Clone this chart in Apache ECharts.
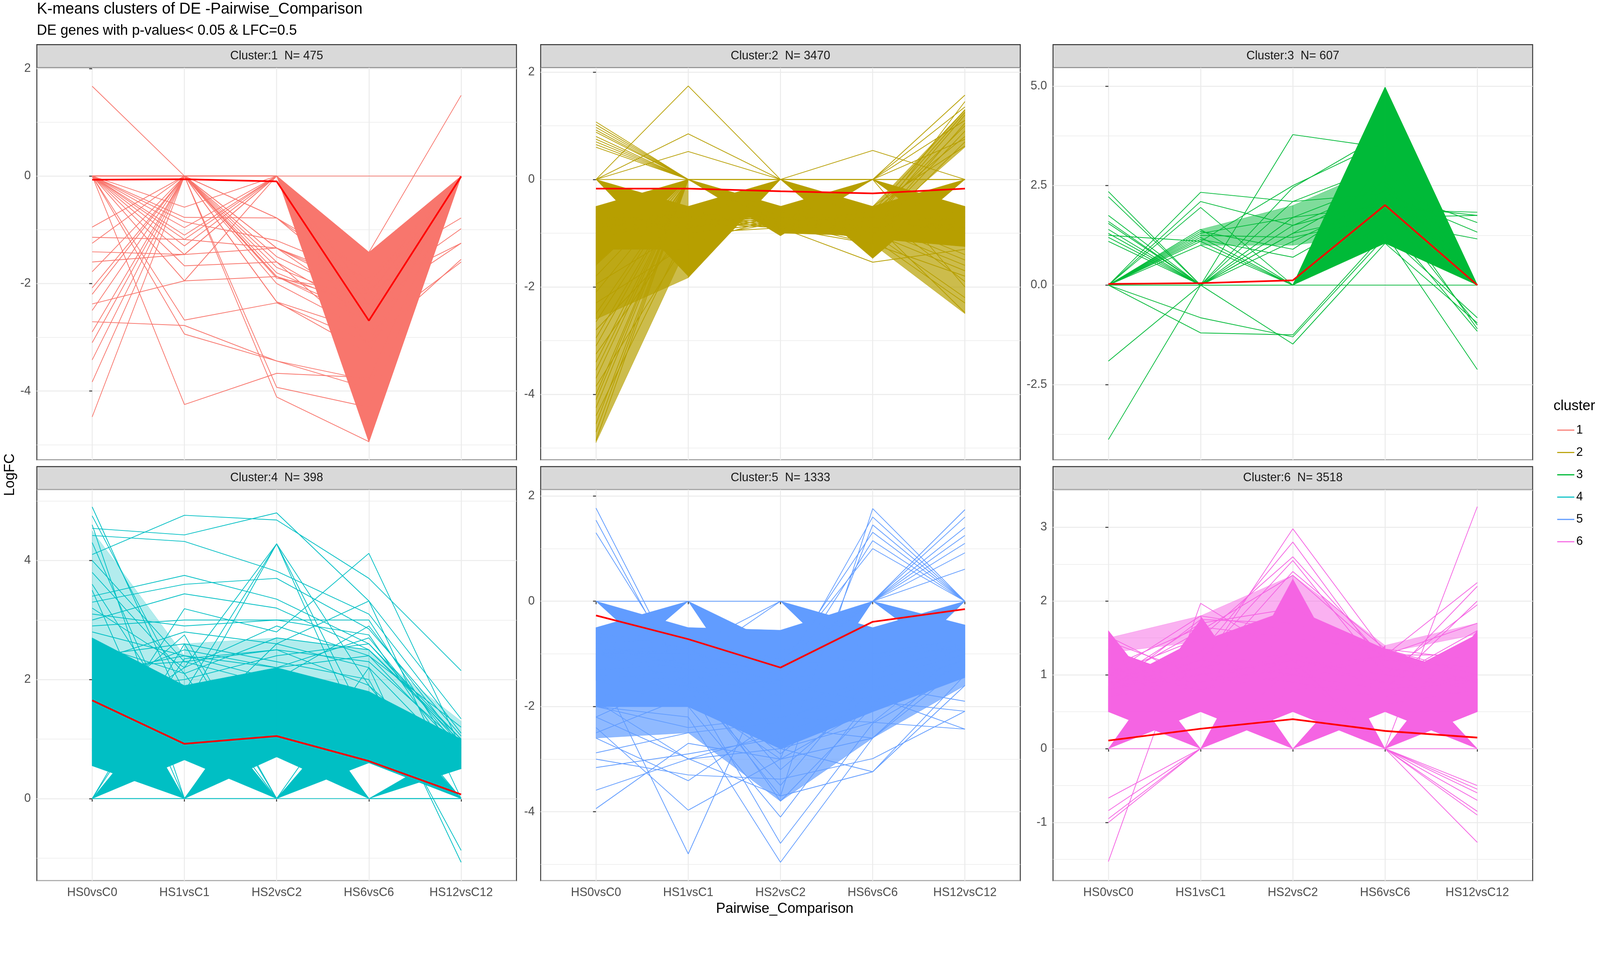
<!DOCTYPE html>
<html>
<head>
<meta charset="utf-8">
<script src="https://cdn.jsdelivr.net/npm/echarts@6/dist/echarts.min.js"></script>
<style>
  html, body { margin: 0; padding: 0; background: #ffffff; overflow: hidden; }
  #container_01 { width: 100vw; height: 100vh; }
</style>
</head>
<body>
<div id="container_01"></div>
<script>
// categories and cluster info
const comparisons = ['HS0vsC0', 'HS1vsC1', 'HS2vsC2', 'HS6vsC6', 'HS12vsC12'];
const clusterSizes = [475, 3470, 607, 398, 1333, 3518];
const clusterColors = ['#F8766D', '#B79F00', '#00BA38', '#00BFC4', '#619CFF', '#F564E3'];

// free y scales, one per panel
const yMin = [-5.28, -5.22, -4.39, -1.38, -5.31, -1.79];
const yMax = [2.014, 2.08, 5.46, 5.19, 2.12, 3.51];
const yMajor = [2, 2, 2.5, 2, 2, 1];

// cluster centres (red lines)
const meanC1 = [-0.07, -0.06, -0.1, -2.69, -0.01];
const meanC2 = [-0.17, -0.17, -0.22, -0.26, -0.17];
const meanC3 = [0.03, 0.05, 0.12, 2.01, 0.0];
const meanC4 = [1.65, 0.92, 1.05, 0.63, 0.07];
const meanC5 = [-0.27, -0.72, -1.26, -0.39, -0.15];
const meanC6 = [0.11, 0.27, 0.4, 0.24, 0.15];

// dense bundles of gene lines: [from comparison, lo, hi at start, lo, hi at next comparison]
const bundlesC1 = [
  [2, 0, 0, -4.95, -1.42],
  [3, -4.95, -1.42, 0, 0]
];
const bundlesC2 = [
  [0, 0, 0, -1.8, -0.5], [0, -1.6, -0.5, 0, 0], [0, -1.3, -0.5, -1.3, -0.5],
  [1, 0, 0, -1.05, -0.5], [1, -1.83, -0.5, 0, 0], [1, -0.75, -0.5, -0.7, -0.5],
  [2, 0, 0, -1.47, -0.5], [2, -1.05, -0.5, 0, 0], [2, -1.0, -0.5, -1.05, -0.5],
  [3, 0, 0, -1.25, -0.5], [3, -1.47, -0.5, 0, 0], [3, -1.1, -0.5, -1.25, -0.5]
];
const bundlesC3 = [
  [2, 0, 0, 1.05, 4.97],
  [3, 1.05, 4.97, 0, 0]
];
const bundlesC4 = [
  [0, 0, 0, 0.65, 1.9], [0, 0.55, 2.7, 0, 0], [0, 0.55, 2.7, 0.65, 1.9],
  [1, 0, 0, 0.7, 2.2], [1, 0.65, 1.9, 0, 0], [1, 0.65, 1.9, 0.7, 2.2],
  [2, 0, 0, 0.6, 1.8], [2, 0.7, 2.2, 0, 0], [2, 0.7, 2.2, 0.6, 1.8],
  [3, 0, 0, 0.5, 0.9], [3, 0.6, 1.8, 0, 0], [3, 0.6, 1.8, 0.5, 1.0]
];
const bundlesC5 = [
  [0, 0, 0, -1.6, -0.5], [0, -1.5, -0.5, 0, 0], [0, -1.5, -0.5, -1.6, -0.5],
  [1, 0, 0, -2.6, -0.85], [1, -1.6, -0.5, -2.6, -0.55],
  [2, 0, 0, -1.7, -0.5], [2, -2.6, -0.55, 0, 0], [2, -2.6, -0.55, -1.7, -0.5],
  [3, 0, 0, -1.3, -0.45], [3, -1.7, -0.5, 0, 0], [3, -1.7, -0.5, -1.3, -0.45],
  [0, -2.0, -1.0, -2.0, -1.0], [1, -2.0, -1.0, -2.8, -1.2], [2, -2.8, -1.2, -2.1, -1.0], [3, -2.1, -1.0, -1.45, -0.8]
];
const bundlesC6 = [
  [0, 0, 0, 0.5, 1.75], [0, 0.5, 1.6, 0, 0], [0, 0.5, 1.35, 0.5, 0.9], [0, 0.5, 0.85, 0.5, 1.5],
  [1, 0, 0, 0.5, 2.3], [1, 0.5, 1.8, 0, 0], [1, 0.5, 1.45, 0.5, 1.9],
  [2, 0, 0, 0.5, 1.4], [2, 0.5, 2.3, 0, 0], [2, 0.5, 1.9, 0.5, 1.35],
  [3, 0, 0, 0.5, 1.6], [3, 0.5, 1.35, 0, 0], [3, 0.5, 1.35, 0.5, 0.95], [3, 0.5, 0.9, 0.5, 1.55]
];

// thinner bundles (streaky areas where the lines do not fill the space)
const sparseC1 = [];
const sparseC2 = [
  [0, -4.9, -1.6, -1.2, 0], [0, -2.6, -1.3, -1.83, -1.2], [3, -1.2, -0.6, -2.5, -1.25], [3, -0.9, -0.5, 0.6, 1.3]
];
const sparseC3 = [[1, 1.0, 1.4, 1.0, 2.0], [2, 1.0, 2.0, 1.3, 3.0]];
const sparseC4 = [
  [0, 2.7, 4.5, 0.9, 2.4], [1, 1.9, 2.6, 2.2, 2.7], [2, 2.2, 2.7, 1.8, 2.5], [3, 1.8, 2.5, 1.0, 1.3]
];
const sparseC5 = [
  [0, -2.6, -2.0, -2.5, -2.0], [1, -2.5, -2.0, -3.8, -2.8], [2, -3.8, -2.8, -2.6, -2.1], [3, -2.6, -2.1, -1.6, -1.45]
];
const sparseC6 = [
  [0, 1.3, 1.5, 1.45, 1.8], [1, 1.45, 1.8, 1.9, 2.35], [2, 1.9, 2.35, 1.3, 1.4], [3, 1.3, 1.4, 1.55, 1.7]
];

// individual genes that stand out of the bundles
const linesC1 = [
  [1.67, 0, 0, -2.6, 0], [-4.48, 0, 0, -3.2, 0], [-3.83, 0, 0, -2.9, 0], [-3.42, 0, -1.34, -2.5, 0],
  [-2.9, 0, 0, -2.4, 0], [-2.71, -2.78, -3.44, -3.95, 0], [0, -2.68, -2.36, -3.1, 0], [0, -2.94, -3.44, -3.8, 0],
  [0, -4.25, -3.67, -3.75, 0], [-2.38, -1.95, -1.87, -2.6, 0], [-2.08, 0, -2.34, -3.3, 0], [-1.78, 0, 0, -2.2, 0],
  [-1.6, -1.46, 0, -2.0, 0], [-1.41, -1.46, -1.34, -2.1, -1.25], [-1.25, 0, -1.87, -2.4, 0], [-1.14, -1.18, 0, -1.9, 0],
  [-0.95, 0, -0.78, -1.8, -0.78], [0, -0.58, 0, -2.2, 0], [0, -0.77, -0.78, -2.0, 0], [0, -0.96, 0, -2.5, 0],
  [0, -1.18, -1.34, -2.2, -0.98], [0, -1.67, -1.6, -3.1, -1.55], [0, -1.95, 0, -2.8, 0], [0, -1.3, 0, -2.4, 0],
  [0, 0, -4.11, -4.94, 0], [0, 0, -3.93, -4.3, 0], [0, 0, -2.34, -2.9, -1.6], [0, 0, -1.87, -2.7, 0],
  [0, 0, -1.6, -2.6, 0], [0, 0, -1.5, -2.3, 0], [0, 0, -1.8, -2.5, 0], [0, 0, -2.0, -2.9, 0],
  [0, 0, -1.7, -2.4, -1.25], [0, 0, 0, -1.42, 1.5], [0, 0, 0, 0, 0], [-3.1, 0, 0, -3.3, 0],
  [-2.2, 0, 0, -2.7, 0], [0, 0, -1.34, -2.0, 0], [0, 0, -0.78, -2.2, 0], [0, -1.46, 0, -2.2, 0],
  [0, -1.1, 0, -2.1, 0], [-2.5, 0, 0, -3.0, 0], [0, 0, -1.9, -2.2, 0], [0, -0.85, -1.2, -1.9, 0]
];
const linesC2 = [
  [1.07, 0, -0.6, -0.8, -0.7], [1.02, 0, -0.7, 0, -0.9], [0.97, 0, 0, -0.7, -0.6], [0.92, 0, -0.8, -0.9, 0],
  [0.88, 0, -0.6, -0.6, -1.0], [0.8, 0, 0, -0.8, -0.7], [0.75, 0, -0.7, -1.0, 0], [0.7, 0, -0.5, -0.6, -0.8],
  [0.65, 0, -0.9, 0, -0.6], [0.6, 0, -0.6, -0.7, -0.9],
  [0, 1.74, 0, 0, 0], [0, 0.85, 0, -0.7, -0.6], [0, 0.52, 0, -0.8, 0], [-0.7, -0.8, 0, 0.54, 0], [0, 0, 0, 0, 0],
  [-1.8, 0, -0.7, -0.9, -0.8], [-1.95, -0.9, -0.6, -1.0, -0.7], [-2.1, 0, -0.8, -0.8, -0.9], [-2.3, -1.2, -0.7, -0.7, -1.0],
  [-2.5, 0, -0.9, -1.1, -0.8], [-2.65, 0, -0.6, -0.9, -0.6], [-2.8, -1.0, -0.8, -0.6, -0.9], [-2.95, 0, -0.7, -1.0, -1.1],
  [-3.1, 0, -0.6, -0.8, -0.7], [-3.25, -0.8, -0.9, -0.9, -0.8], [-3.4, 0, -0.8, -1.2, -0.6], [-3.55, 0, -0.7, -0.7, -1.0],
  [-3.7, 0, -0.6, -1.0, -0.9], [-3.85, -1.1, -0.8, -0.9, -0.7], [-4.0, 0, -0.9, -0.8, -0.8], [-4.1, 0, -0.7, -1.1, -1.2],
  [-4.25, 0, -0.6, -0.9, -0.9], [-4.4, -0.9, -0.8, -0.8, -0.7], [-4.55, 0, -0.7, -1.0, -0.8], [-4.7, 0, -0.9, -0.7, -1.0],
  [-4.86, 0, -0.8, -0.9, -0.9], [-0.9, -1.0, -0.9, -1.54, -1.3],
  [-0.7, -0.8, -0.7, -0.8, -2.48], [-0.9, 0, -0.8, -1.0, -2.2], [-0.8, -0.9, -0.6, 0, -2.0], [-0.6, -0.7, -0.9, -1.2, -1.8],
  [-1.0, -0.8, -0.7, -0.9, -1.6], [-0.7, -1.0, -0.8, -0.7, -1.4], [-0.8, -0.6, -0.9, -1.1, -2.3], [-0.9, -0.7, -0.6, -0.6, -1.9],
  [-0.6, -0.9, -0.8, -1.0, -1.7], [-0.8, -0.8, -0.7, -0.8, -1.5],
  [-0.8, -0.7, -0.8, 0, 1.57], [-0.7, -0.9, 0, 0, 1.35], [-0.9, -0.8, -0.7, -0.6, 1.3], [-0.6, 0, -0.8, -0.8, 1.2],
  [-1.0, -0.7, -0.6, 0, 1.1], [-0.7, -0.8, -0.9, -0.7, 1.0], [-0.8, -1.0, -0.7, -0.9, 0.9], [-0.9, -0.6, -0.8, -0.6, 0.8],
  [-0.7, -0.7, -0.9, 0, 0.75], [-0.6, -0.9, -0.7, -1.0, 0.7], [-0.8, -0.8, -0.6, -0.5, 0.62], [-1.1, -0.7, -0.8, -0.8, 1.45],
  [-0.9, -0.6, -0.7, -0.7, 1.25], [-0.7, -0.8, -0.8, -0.9, 1.05]
];
const linesC3 = [
  [2.35, 0, 0, 3.2, 0], [2.22, 0, 1.3, 2.6, 0], [1.75, 0, 1.1, 2.2, 0], [1.6, 0, 0, 1.9, 1.83],
  [1.55, 0, 0, 2.4, 0], [1.4, 0, 1.3, 1.8, 0], [1.3, 0, 0, 2.9, 0], [1.2, 0, 1.5, 2.1, 0],
  [1.1, 0, 0, 1.6, 1.16], [0, 2.33, 2.1, 3.0, 0], [0, 2.1, 1.5, 2.5, 0], [0, 1.95, 0, 1.8, 0],
  [0, 1.4, 0, 2.2, 0], [0, 1.3, 1.7, 2.6, 0], [0, 1.2, 0, 1.5, 0], [0, 1.1, 2.5, 3.6, 0],
  [0, 1.0, 0, 2.0, 0], [0, 1.25, 1.2, 1.7, 1.75], [0, 1.35, 0.9, 2.4, 1.57], [-1.91, 0, 0, 1.5, 0],
  [-3.88, 0, 0, 2.0, 0], [0, -0.82, -1.3, 1.2, 0], [0, -1.2, -1.25, 1.3, -0.82], [0, 0, -1.48, 1.05, -0.95],
  [0, 0, 3.78, 3.45, 0], [0, 0, 2.45, 3.8, 0], [0, 0, 2.1, 2.3, 1.33], [0, 0, 1.7, 2.0, 1.75],
  [0, 0, 0, 1.9, -1.0], [0, 0, 0, 2.2, -1.1], [0, 0, 0, 1.6, -1.16], [0, 0, 0, 1.3, -2.12],
  [0, 0, 0, 4.97, 0], [0, 0, 0, 0, 0], [1.25, 1.1, 0, 2.7, 0], [0, 1.15, 0.7, 2.0, 0]
];
const linesC4 = [
  [4.54, 4.43, 4.8, 3.32, 1.34], [4.1, 4.76, 4.68, 3.7, 2.15], [4.42, 4.32, 3.82, 3.1, 1.1], [4.9, 1.5, 1.3, 0.9, 0.6],
  [4.75, 1.8, 1.6, 1.2, 0.8], [4.6, 0, 2.0, 0.8, 0], [4.3, 0.8, 1.2, 0, 0], [4.0, 2.3, 1.9, 1.5, 0.7],
  [3.8, 2.1, 0, 0.9, 0], [3.6, 1.2, 1.5, 1.7, 0.5], [3.4, 3.75, 3.35, 2.6, 0.9], [3.3, 3.6, 3.7, 2.85, 1.05],
  [3.1, 2.9, 3.0, 2.75, 0.5], [3.0, 3.44, 3.2, 2.5, 0.95], [2.9, 3.0, 3.0, 3.0, 0.6], [2.5, 1.5, 4.28, 1.9, 0.5],
  [2.0, 1.8, 4.28, 1.2, 0], [1.2, 2.2, 4.28, 0.8, 0], [0.8, 3.19, 2.8, 4.12, 0.85], [1.0, 1.1, 2.6, 3.32, 0],
  [2.4, 2.6, 2.3, 2.0, -0.87], [1.4, 2.75, 0, 2.2, -1.07], [0, 2.35, 2.5, 1.9, 0], [0, 2.6, 0, 1.5, 0],
  [2.8, 2.4, 2.2, 2.4, 0.8], [1.8, 2.0, 2.4, 2.6, 1.0], [0, 0, 0, 0, 0], [3.5, 0, 0.9, 1.0, 0],
  [0, 0, 2.1, 0, 0], [1.6, 0, 0, 1.7, 0.7],
  [2.2, 2.3, 2.5, 2.3, 0.9], [2.6, 2.1, 2.7, 2.5, 1.0], [1.9, 2.5, 2.2, 2.7, 0.8], [2.3, 2.8, 2.6, 2.2, 0.6],
  [3.2, 2.2, 2.9, 2.4, 1.2], [2.1, 2.4, 2.0, 2.9, 0.9]
];
const linesC5 = [
  [1.77, -1.65, -1.5, -1.2, -0.8], [1.54, -1.7, -1.8, -1.0, -0.9], [1.3, -1.5, -1.2, -1.1, -0.7],
  [-2.88, -2.5, -2.3, -1.5, -1.0], [-3.16, -2.9, -2.6, -2.0, -1.2], [-3.59, -3.0, -2.8, -2.3, -0.9], [-3.94, -2.7, -3.0, -2.6, -1.0],
  [-2.6, -3.41, -2.2, -1.8, -1.1], [-2.4, -3.97, -3.0, -2.0, -0.8], [-1.2, -4.8, -0.9, -1.2, -0.8],
  [-3.0, -3.3, -3.38, -2.99, -2.09], [-2.2, -2.99, -3.7, -3.24, -1.6], [-2.0, -2.2, -4.96, -2.6, -1.0], [-1.8, -1.6, -4.6, -2.32, -1.3],
  [-1.5, -2.0, -4.1, -1.8, -2.43], [-1.0, -1.5, -3.7, 1.76, 0], [-1.2, -1.8, -3.0, 1.45, 0],
  [-0.8, -1.2, -1.5, 1.6, 0], [-0.9, -1.0, -1.3, 1.31, 0], [-1.1, -0.9, -1.6, 1.15, 0], [-0.7, -1.3, -1.2, 1.0, 0],
  [-0.9, -1.0, -1.4, 0, 1.74], [-1.0, -1.2, -1.0, 0, 1.6], [-0.8, -0.7, -1.5, 0, 1.4], [-1.2, -1.1, -1.3, 0, 1.25],
  [-0.6, -0.9, -1.8, 0, 1.1], [-1.0, -0.8, -1.1, 0, 0.92], [-0.7, -0.6, -1.2, 0, 0.61],
  [-1.0, -1.3, -1.6, -1.9, -2.09], [-1.4, -1.5, -2.2, -2.3, -2.43], [-0.9, -1.2, -2.0, -1.6, -1.9],
  [0, 0, 0, 0, 0], [-0.8, -1.2, 0, -1.0, -0.7], [-1.0, -0.9, 0, -0.7, -0.9],
  [-1.0, -1.5, -2.9, -1.5, -0.9], [-1.3, -1.2, -3.2, -1.7, -1.0], [-0.9, -1.6, -3.5, -1.4, -0.8], [-1.5, -1.3, -3.8, -2.0, -1.1],
  [-2.2, -1.4, -1.8, -1.3, -0.9], [-2.5, -1.8, -2.0, -1.5, -1.0], [-2.0, -2.4, -2.2, -1.7, -1.1],
  [-1.9, -3.0, -2.5, -1.9, -1.2], [-1.5, -1.6, -2.4, -2.6, -1.2], [-2.0, -2.0, -2.8, -3.24, -1.4]
];
const linesC6 = [
  [-0.67, 0, 1.0, 0.8, 0.9], [-0.84, 0, 0.9, 0.7, 1.0], [-0.95, 0, 1.1, 0.6, 0.8], [-1.0, 0, 0.8, 0.9, 0.7],
  [-1.53, 1.97, 1.2, 0.9, 1.0], [1.52, 0.9, 1.3, 0.8, 1.0], [1.45, 1.0, 1.2, 1.0, 0.9],
  [1.0, 1.8, 1.6, 1.2, 1.1], [0.8, 1.75, 1.7, 1.3, 1.0], [0.9, 1.7, 1.9, 1.25, 0.9], [1.1, 1.65, 1.5, 1.35, 1.2],
  [0.8, 1.1, 2.98, 1.3, 1.0], [0.9, 1.3, 2.8, 1.1, 0.9], [1.0, 1.5, 2.6, 1.2, 1.1], [0.7, 1.2, 2.55, 1.0, 0.8],
  [1.1, 1.0, 2.4, 1.35, 1.0], [0.9, 1.6, 2.35, 1.25, 0.9],
  [0.8, 1.0, 1.2, 0, -0.5], [0.9, 0.8, 1.0, 0, -0.55], [1.0, 1.1, 0.9, 0, -0.6], [0.7, 0.9, 1.1, 0, -0.7],
  [0.8, 1.2, 1.0, 0, -0.85], [1.0, 0.9, 1.3, 0, -0.9], [0.9, 1.0, 1.2, 0, -1.27],
  [0.8, 1.0, 1.2, 0, 3.28], [1.0, 0.9, 1.1, 1.26, 2.25], [0.8, 1.1, 1.3, 0.9, 2.2], [0.9, 1.2, 1.0, 0.8, 2.0],
  [1.1, 0.8, 1.2, 1.0, 1.95], [0.7, 1.0, 0.9, 1.27, 1.7], [1.0, 1.3, 1.1, 0.9, 1.6], [0.9, 1.1, 1.0, 1.27, 1.27],
  [0, 0, 0, 0, 0]
];

const clusterMeans = [meanC1, meanC2, meanC3, meanC4, meanC5, meanC6];
const clusterBundles = [bundlesC1, bundlesC2, bundlesC3, bundlesC4, bundlesC5, bundlesC6];
const clusterSparse = [sparseC1, sparseC2, sparseC3, sparseC4, sparseC5, sparseC6];
const clusterLines = [linesC1, linesC2, linesC3, linesC4, linesC5, linesC6];
const sparseOpacity = [0.5, 0.7, 0.5, 0.3, 0.7, 0.5];

// the layout is drawn for a 4300 px wide page; scale it to the real viewport
var chartDom = document.getElementById('container_01');
const viewW = document.documentElement.clientWidth || window.innerWidth || 4300;
const s = viewW / 4300;
chartDom.style.width = viewW + 'px';
chartDom.style.height = Math.round(2473 * s) + 'px';
function px(v) { return v * s; }

const fontFamily = '"Liberation Sans", Arial, sans-serif';
const panelLeft = [99, 1453, 2830];
const panelWidth = 1289;
const rowTop = [182, 1316];
const rowHeight = [1054, 1051];
const stripHeight = 62;

function tickValues(min, max, step) {
  let out = [];
  for (let v = Math.ceil(min / step - 1e-9) * step; v <= max + 1e-9; v += step) {
    out.push(Math.round(v * 1000) / 1000);
  }
  return out;
}

function bundleSeries(k, bundles, color, opacity, z) {
  return {
    type: 'custom', name: String(k + 1), xAxisIndex: k, yAxisIndex: 2 * k,
    data: bundles, encode: { x: 0, y: 1 }, silent: true, z: z,
    itemStyle: { color: color },
    renderItem: function (params, api) {
      const b = bundles[params.dataIndex];
      const pts = [
        api.coord([b[0], b[1]]), api.coord([b[0], b[2]]),
        api.coord([b[0] + 1, b[4]]), api.coord([b[0] + 1, b[3]])
      ];
      return { type: 'polygon', shape: { points: pts }, style: { fill: color, stroke: color, lineWidth: px(1), opacity: opacity } };
    }
  };
}

var myChart = echarts.init(chartDom, null, { renderer: 'canvas' });

var grids = [], xAxes = [], yAxes = [], series = [], graphics = [];

for (let k = 0; k < 6; k++) {
  const col = k % 3, row = Math.floor(k / 3);
  const left = panelLeft[col], top = rowTop[row], height = rowHeight[row];
  const color = clusterColors[k];
  const step = yMajor[k];
  const majors = tickValues(yMin[k], yMax[k], step);

  grids.push({
    left: px(left), top: px(top), width: px(panelWidth), height: px(height),
    show: true, backgroundColor: '#ffffff', borderColor: '#333333', borderWidth: px(2.5),
    containLabel: false
  });

  xAxes.push({
    type: 'value', gridIndex: k, min: -0.6, max: 4.6, minInterval: 1, maxInterval: 1,
    axisLine: { show: false },
    axisTick: { show: row === 1, length: px(8), lineStyle: { color: '#333333', width: px(2.5) }, customValues: [0, 1, 2, 3, 4] },
    axisLabel: {
      show: row === 1, margin: px(17), color: '#4D4D4D', fontSize: px(32), fontFamily: fontFamily,
      customValues: [0, 1, 2, 3, 4],
      formatter: function (v) {
        return Math.abs(v - Math.round(v)) < 1e-6 && v >= 0 && v <= 4 ? comparisons[Math.round(v)] : '';
      }
    },
    splitLine: { show: true, lineStyle: { color: '#EBEBEB', width: px(2.6) } }
  });

  // major axis (labels, ticks, major grid)
  yAxes.push({
    type: 'value', gridIndex: k, min: yMin[k], max: yMax[k], minInterval: step, maxInterval: step,
    axisLine: { show: false },
    axisTick: { show: true, length: px(8), lineStyle: { color: '#333333', width: px(2.5) }, customValues: majors },
    axisLabel: {
      margin: px(16), color: '#4D4D4D', fontSize: px(32), fontFamily: fontFamily, customValues: majors,
      formatter: function (v) {
        const r = Math.round(v / step) * step;
        if (Math.abs(v - r) > 1e-6) return '';
        return step === 2.5 ? r.toFixed(1) : String(Math.round(r));
      }
    },
    splitLine: { show: true, lineStyle: { color: '#EBEBEB', width: px(2.6) } },
    z: 1
  });
  // minor grid only
  yAxes.push({
    type: 'value', gridIndex: k, min: yMin[k], max: yMax[k], minInterval: step / 2, maxInterval: step / 2,
    position: 'left',
    axisLine: { show: false }, axisTick: { show: false }, axisLabel: { show: false },
    splitLine: { show: true, lineStyle: { color: '#EBEBEB', width: px(1.6) } },
    z: 0
  });

  series.push(bundleSeries(k, clusterSparse[k], color, sparseOpacity[k], 2));
  series.push(bundleSeries(k, clusterBundles[k], color, 1, 2));

  clusterLines[k].forEach(function (vals) {
    series.push({
      type: 'line', name: String(k + 1), xAxisIndex: k, yAxisIndex: 2 * k,
      data: vals.map(function (v, i) { return [i, v]; }),
      symbol: 'none', silent: true, z: 3,
      itemStyle: { color: color },
      lineStyle: { color: color, width: px(2) }
    });
  });

  series.push({
    type: 'line', name: 'centre' + k, xAxisIndex: k, yAxisIndex: 2 * k,
    data: clusterMeans[k].map(function (v, i) { return [i, v]; }),
    symbol: 'none', silent: true, z: 5,
    itemStyle: { color: '#FF0000' },
    lineStyle: { color: '#FF0000', width: px(4.5) }
  });

  // strip on top of each panel
  graphics.push({
    type: 'rect', shape: { x: px(left), y: px(top - stripHeight), width: px(panelWidth), height: px(stripHeight) },
    style: { fill: '#D9D9D9', stroke: '#333333', lineWidth: px(2.5) }
  });
  graphics.push({
    type: 'text', x: px(left + panelWidth / 2), y: px(top - stripHeight / 2),
    style: {
      text: 'Cluster:' + (k + 1) + '  N= ' + clusterSizes[k],
      font: px(32) + 'px ' + fontFamily, fill: '#1A1A1A', textAlign: 'center', textVerticalAlign: 'middle'
    }
  });
}

graphics.push({
  type: 'text', x: px(99), y: px(25),
  style: { text: 'K-means clusters of DE -Pairwise_Comparison', font: px(42) + 'px ' + fontFamily, fill: '#000000', textAlign: 'left', textVerticalAlign: 'middle' }
});
graphics.push({
  type: 'text', x: px(99), y: px(83),
  style: { text: 'DE genes with p-values< 0.05 & LFC=0.5', font: px(38) + 'px ' + fontFamily, fill: '#000000', textAlign: 'left', textVerticalAlign: 'middle' }
});
graphics.push({
  type: 'text', x: px(27), y: px(1276), rotation: Math.PI / 2,
  style: { text: 'LogFC', font: px(38) + 'px ' + fontFamily, fill: '#000000', textAlign: 'center', textVerticalAlign: 'middle' }
});
graphics.push({
  type: 'text', x: px(2109), y: px(2443),
  style: { text: 'Pairwise_Comparison', font: px(38) + 'px ' + fontFamily, fill: '#000000', textAlign: 'center', textVerticalAlign: 'middle' }
});
graphics.push({
  type: 'text', x: px(4175), y: px(1092),
  style: { text: 'cluster', font: px(38) + 'px ' + fontFamily, fill: '#000000', textAlign: 'left', textVerticalAlign: 'middle' }
});

var option = {
  animation: false,
  backgroundColor: '#ffffff',
  grid: grids,
  xAxis: xAxes,
  yAxis: yAxes,
  legend: {
    orient: 'vertical', left: px(4185), top: px(1140), padding: 0,
    itemWidth: px(46), itemHeight: px(3), itemGap: px(28), itemTextGap: px(30), icon: 'rect',
    selectedMode: false,
    textStyle: { fontSize: px(32), lineHeight: px(32), color: '#000000', fontFamily: fontFamily },
    data: clusterColors.map(function (c, i) { return { name: String(i + 1), itemStyle: { color: c } }; })
  },
  graphic: { elements: graphics },
  series: series
};

myChart.setOption(option);
window.addEventListener('resize', myChart.resize);
</script>
</body>
</html>
